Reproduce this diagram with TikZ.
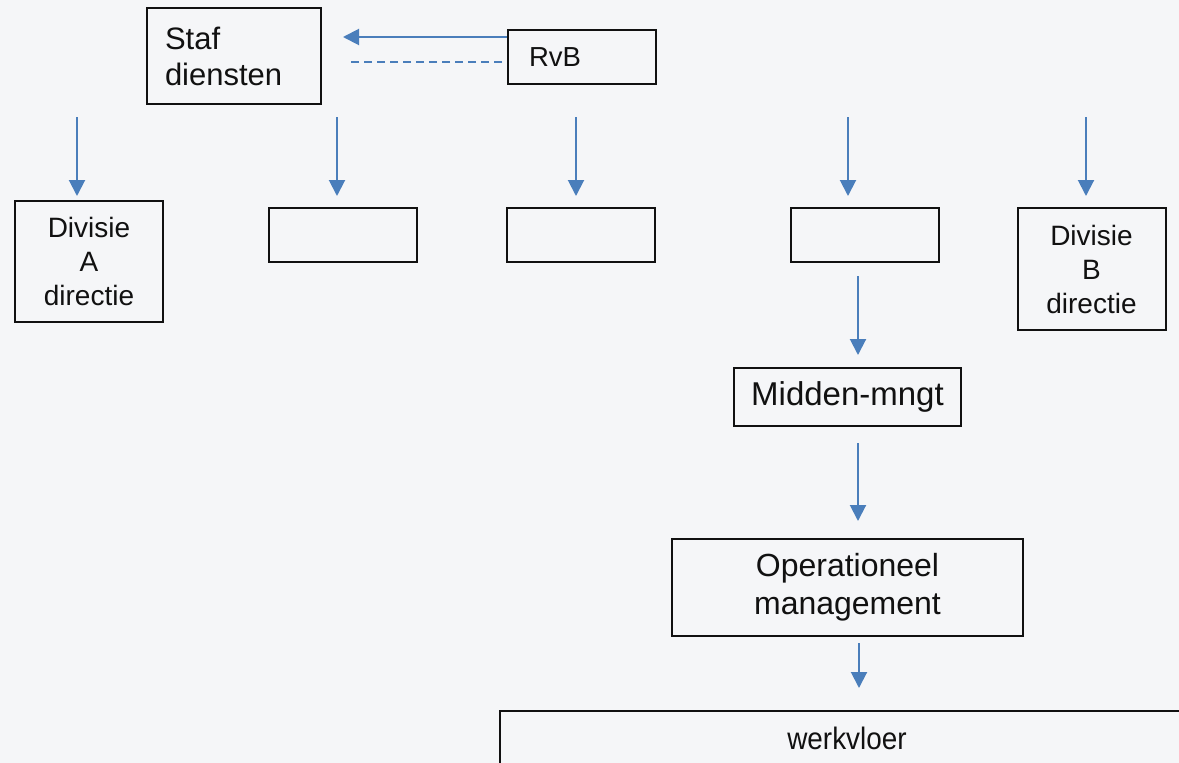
\documentclass[tikz,border=0pt]{standalone}
\usepackage{fontspec}
\setmainfont{Liberation Sans}
\newfontfamily\narrowsans[FakeStretch=0.9]{Liberation Sans}
\usetikzlibrary{arrows.meta}
\definecolor{pagebg}{HTML}{F5F6F8}
\definecolor{flowblue}{HTML}{4A7EBB}
\definecolor{ink}{HTML}{111111}
\begin{document}
\begin{tikzpicture}[x=1pt,y=-1pt,
  box/.style={draw=ink, line width=2pt, inner sep=0pt, text=ink, align=center},
  flow/.style={draw=flowblue, line width=2pt, -{Triangle[length=16pt,width=16pt]}},
  link/.style={draw=flowblue, line width=2pt, dash pattern=on 8pt off 5pt}]
\clip (0,0) rectangle (1179,763);
\fill[pagebg] (0,0) rectangle (1179,763);

% top: board and staff services
\node[box, minimum width=174pt, minimum height=96pt, text width=137pt, align=left,
      font=\fontsize{31}{36}\selectfont] (staf) at (233.5,56) {Staf\\diensten};
\node[box, minimum width=148pt, minimum height=54pt, text width=106pt, align=left,
      font=\fontsize{27.5}{33}\selectfont] (rvb) at (582,57) {RvB};

\coordinate (stafin) at (343,37);
\draw[flow] (rvb.west |- stafin) -- (stafin);
\coordinate (dashA) at (348,62);
\coordinate (dashB) at (502,62);
\draw[link] (dashB) -- (dashA);

% division level
\node[box, minimum width=148pt, minimum height=121pt,
      font=\fontsize{28}{34}\selectfont] (diva) at (89,261.5) {Divisie\\A\\directie};
\node[box, minimum width=148pt, minimum height=54pt] (unit1) at (343,235) {};
\node[box, minimum width=148pt, minimum height=54pt] (unit2) at (581,235) {};
\node[box, minimum width=148pt, minimum height=54pt] (unit3) at (865,235) {};
\node[box, minimum width=148pt, minimum height=122pt,
      font=\fontsize{28}{34}\selectfont] (divb) at (1091.5,269) {Divisie\\B\\directie};

\foreach \x/\n in {77/1, 337/2, 576/3, 848/4, 1086/5} {
  \coordinate (top\n) at (\x,117);
  \coordinate (tip\n) at (\x,196);
  \draw[flow] (top\n) -- (tip\n);
}

% line management chain
\node[box, minimum width=227pt, minimum height=58pt,
      font=\fontsize{33}{38}\selectfont] (midden) at (847.5,397) {Midden-mngt};
\node[box, minimum width=351pt, minimum height=97pt,
      font=\fontsize{32}{38}\selectfont] (oper) at (847.5,587.5) {Operationeel\\management};
\node[box, line width=2.4pt, minimum width=694pt, minimum height=54pt,
      font=\narrowsans\fontsize{31}{36}\selectfont] (werk) at (847,738) {werkvloer};

\coordinate (m1s) at (858,276);  \coordinate (m1e) at (858,355);
\coordinate (m2s) at (858,443);  \coordinate (m2e) at (858,521);
\coordinate (m3s) at (859,643);  \coordinate (m3e) at (859,688);
\draw[flow] (m1s) -- (m1e);
\draw[flow] (m2s) -- (m2e);
\draw[flow] (m3s) -- (m3e);
\end{tikzpicture}
\end{document}
